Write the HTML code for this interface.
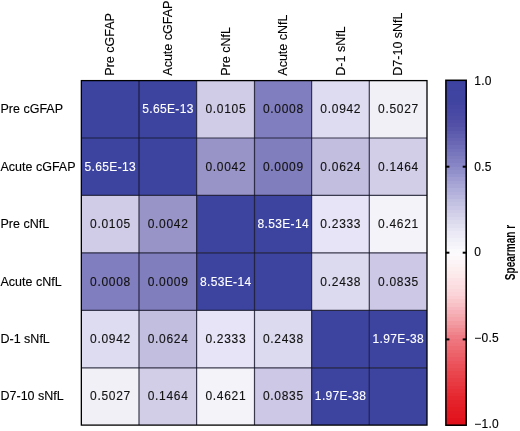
<!DOCTYPE html>
<html><head><meta charset="utf-8"><style>
html,body{margin:0;padding:0;background:#fff;}
svg{display:block;font-family:"Liberation Sans",sans-serif;will-change:transform;filter:blur(0.3px);}
</style></head><body>
<svg width="520" height="431" viewBox="0 0 520 431">
<rect width="520" height="431" fill="#fff"/>
<rect x="81.35" y="80.6" width="57.65" height="57.40" fill="#3d44a0"/>
<rect x="139.0" y="80.6" width="57.60" height="57.40" fill="#3d44a0"/>
<rect x="196.6" y="80.6" width="57.90" height="57.40" fill="#d0cce8"/>
<rect x="254.5" y="80.6" width="57.10" height="57.40" fill="#807ebe"/>
<rect x="311.6" y="80.6" width="57.70" height="57.40" fill="#dedcf0"/>
<rect x="369.3" y="80.6" width="57.70" height="57.40" fill="#f1f0f7"/>
<rect x="81.35" y="138.0" width="57.65" height="57.40" fill="#3d44a0"/>
<rect x="139.0" y="138.0" width="57.60" height="57.40" fill="#3d44a0"/>
<rect x="196.6" y="138.0" width="57.90" height="57.40" fill="#9894c8"/>
<rect x="254.5" y="138.0" width="57.10" height="57.40" fill="#807ebc"/>
<rect x="311.6" y="138.0" width="57.70" height="57.40" fill="#c2bee0"/>
<rect x="369.3" y="138.0" width="57.70" height="57.40" fill="#d2cee8"/>
<rect x="81.35" y="195.4" width="57.65" height="57.40" fill="#d0cce8"/>
<rect x="139.0" y="195.4" width="57.60" height="57.40" fill="#9894c8"/>
<rect x="196.6" y="195.4" width="57.90" height="57.40" fill="#3d44a0"/>
<rect x="254.5" y="195.4" width="57.10" height="57.40" fill="#3d44a0"/>
<rect x="311.6" y="195.4" width="57.70" height="57.40" fill="#e6e4f6"/>
<rect x="369.3" y="195.4" width="57.70" height="57.40" fill="#f4f3fa"/>
<rect x="81.35" y="252.8" width="57.65" height="57.60" fill="#807ebe"/>
<rect x="139.0" y="252.8" width="57.60" height="57.60" fill="#807ebc"/>
<rect x="196.6" y="252.8" width="57.90" height="57.60" fill="#3d44a0"/>
<rect x="254.5" y="252.8" width="57.10" height="57.60" fill="#3d44a0"/>
<rect x="311.6" y="252.8" width="57.70" height="57.60" fill="#dcdaee"/>
<rect x="369.3" y="252.8" width="57.70" height="57.60" fill="#ccc8e6"/>
<rect x="81.35" y="310.4" width="57.65" height="57.40" fill="#dedcf0"/>
<rect x="139.0" y="310.4" width="57.60" height="57.40" fill="#c2bee0"/>
<rect x="196.6" y="310.4" width="57.90" height="57.40" fill="#e6e4f6"/>
<rect x="254.5" y="310.4" width="57.10" height="57.40" fill="#dcdaee"/>
<rect x="311.6" y="310.4" width="57.70" height="57.40" fill="#3d44a0"/>
<rect x="369.3" y="310.4" width="57.70" height="57.40" fill="#3d44a0"/>
<rect x="81.35" y="367.8" width="57.65" height="57.30" fill="#f1f0f7"/>
<rect x="139.0" y="367.8" width="57.60" height="57.30" fill="#d2cee8"/>
<rect x="196.6" y="367.8" width="57.90" height="57.30" fill="#f4f3fa"/>
<rect x="254.5" y="367.8" width="57.10" height="57.30" fill="#ccc8e6"/>
<rect x="311.6" y="367.8" width="57.70" height="57.30" fill="#3d44a0"/>
<rect x="369.3" y="367.8" width="57.70" height="57.30" fill="#3d44a0"/>
<line x1="139.0" y1="80.6" x2="139.0" y2="425.1" stroke="#14142a" stroke-width="1.2" stroke-opacity="0.82"/>
<line x1="196.6" y1="80.6" x2="196.6" y2="425.1" stroke="#14142a" stroke-width="1.2" stroke-opacity="0.82"/>
<line x1="254.5" y1="80.6" x2="254.5" y2="425.1" stroke="#14142a" stroke-width="1.2" stroke-opacity="0.82"/>
<line x1="311.6" y1="80.6" x2="311.6" y2="425.1" stroke="#14142a" stroke-width="1.2" stroke-opacity="0.82"/>
<line x1="369.3" y1="80.6" x2="369.3" y2="425.1" stroke="#14142a" stroke-width="1.2" stroke-opacity="0.82"/>
<line x1="81.35" y1="138.0" x2="427.0" y2="138.0" stroke="#14142a" stroke-width="1.2" stroke-opacity="0.82"/>
<line x1="81.35" y1="195.4" x2="427.0" y2="195.4" stroke="#14142a" stroke-width="1.2" stroke-opacity="0.82"/>
<line x1="81.35" y1="252.8" x2="427.0" y2="252.8" stroke="#14142a" stroke-width="1.2" stroke-opacity="0.82"/>
<line x1="81.35" y1="310.4" x2="427.0" y2="310.4" stroke="#14142a" stroke-width="1.2" stroke-opacity="0.82"/>
<line x1="81.35" y1="367.8" x2="427.0" y2="367.8" stroke="#14142a" stroke-width="1.2" stroke-opacity="0.82"/>
<rect x="81.35" y="80.6" width="345.65" height="344.50" fill="none" stroke="#000" stroke-width="1.3"/>
<text x="167.98" y="113.30" fill="#fff" stroke="#fff" stroke-width="0.12" text-anchor="middle" font-size="12" letter-spacing="0.35">5.65E-13</text>
<text x="225.90" y="113.30" fill="#111" stroke="#111" stroke-width="0.12" text-anchor="middle" font-size="12" letter-spacing="0.7">0.0105</text>
<text x="283.40" y="113.30" fill="#111" stroke="#111" stroke-width="0.12" text-anchor="middle" font-size="12" letter-spacing="0.7">0.0008</text>
<text x="340.80" y="113.30" fill="#111" stroke="#111" stroke-width="0.12" text-anchor="middle" font-size="12" letter-spacing="0.7">0.0942</text>
<text x="398.50" y="113.30" fill="#111" stroke="#111" stroke-width="0.12" text-anchor="middle" font-size="12" letter-spacing="0.7">0.5027</text>
<text x="110.35" y="170.70" fill="#fff" stroke="#fff" stroke-width="0.12" text-anchor="middle" font-size="12" letter-spacing="0.35">5.65E-13</text>
<text x="225.90" y="170.70" fill="#111" stroke="#111" stroke-width="0.12" text-anchor="middle" font-size="12" letter-spacing="0.7">0.0042</text>
<text x="283.40" y="170.70" fill="#111" stroke="#111" stroke-width="0.12" text-anchor="middle" font-size="12" letter-spacing="0.7">0.0009</text>
<text x="340.80" y="170.70" fill="#111" stroke="#111" stroke-width="0.12" text-anchor="middle" font-size="12" letter-spacing="0.7">0.0624</text>
<text x="398.50" y="170.70" fill="#111" stroke="#111" stroke-width="0.12" text-anchor="middle" font-size="12" letter-spacing="0.7">0.1464</text>
<text x="110.52" y="228.10" fill="#111" stroke="#111" stroke-width="0.12" text-anchor="middle" font-size="12" letter-spacing="0.7">0.0105</text>
<text x="168.15" y="228.10" fill="#111" stroke="#111" stroke-width="0.12" text-anchor="middle" font-size="12" letter-spacing="0.7">0.0042</text>
<text x="283.23" y="228.10" fill="#fff" stroke="#fff" stroke-width="0.12" text-anchor="middle" font-size="12" letter-spacing="0.35">8.53E-14</text>
<text x="340.80" y="228.10" fill="#111" stroke="#111" stroke-width="0.12" text-anchor="middle" font-size="12" letter-spacing="0.7">0.2333</text>
<text x="398.50" y="228.10" fill="#111" stroke="#111" stroke-width="0.12" text-anchor="middle" font-size="12" letter-spacing="0.7">0.4621</text>
<text x="110.52" y="285.60" fill="#111" stroke="#111" stroke-width="0.12" text-anchor="middle" font-size="12" letter-spacing="0.7">0.0008</text>
<text x="168.15" y="285.60" fill="#111" stroke="#111" stroke-width="0.12" text-anchor="middle" font-size="12" letter-spacing="0.7">0.0009</text>
<text x="225.73" y="285.60" fill="#fff" stroke="#fff" stroke-width="0.12" text-anchor="middle" font-size="12" letter-spacing="0.35">8.53E-14</text>
<text x="340.80" y="285.60" fill="#111" stroke="#111" stroke-width="0.12" text-anchor="middle" font-size="12" letter-spacing="0.7">0.2438</text>
<text x="398.50" y="285.60" fill="#111" stroke="#111" stroke-width="0.12" text-anchor="middle" font-size="12" letter-spacing="0.7">0.0835</text>
<text x="110.52" y="343.10" fill="#111" stroke="#111" stroke-width="0.12" text-anchor="middle" font-size="12" letter-spacing="0.7">0.0942</text>
<text x="168.15" y="343.10" fill="#111" stroke="#111" stroke-width="0.12" text-anchor="middle" font-size="12" letter-spacing="0.7">0.0624</text>
<text x="225.90" y="343.10" fill="#111" stroke="#111" stroke-width="0.12" text-anchor="middle" font-size="12" letter-spacing="0.7">0.2333</text>
<text x="283.40" y="343.10" fill="#111" stroke="#111" stroke-width="0.12" text-anchor="middle" font-size="12" letter-spacing="0.7">0.2438</text>
<text x="398.32" y="343.10" fill="#fff" stroke="#fff" stroke-width="0.12" text-anchor="middle" font-size="12" letter-spacing="0.35">1.97E-38</text>
<text x="110.52" y="400.45" fill="#111" stroke="#111" stroke-width="0.12" text-anchor="middle" font-size="12" letter-spacing="0.7">0.5027</text>
<text x="168.15" y="400.45" fill="#111" stroke="#111" stroke-width="0.12" text-anchor="middle" font-size="12" letter-spacing="0.7">0.1464</text>
<text x="225.90" y="400.45" fill="#111" stroke="#111" stroke-width="0.12" text-anchor="middle" font-size="12" letter-spacing="0.7">0.4621</text>
<text x="283.40" y="400.45" fill="#111" stroke="#111" stroke-width="0.12" text-anchor="middle" font-size="12" letter-spacing="0.7">0.0835</text>
<text x="340.63" y="400.45" fill="#fff" stroke="#fff" stroke-width="0.12" text-anchor="middle" font-size="12" letter-spacing="0.35">1.97E-38</text>
<text x="0.5" y="113.30" font-size="12.5" stroke="#000" stroke-width="0.12">Pre cGFAP</text>
<text x="0.5" y="170.70" font-size="12.5" stroke="#000" stroke-width="0.12">Acute cGFAP</text>
<text x="0.5" y="228.10" font-size="12.5" stroke="#000" stroke-width="0.12">Pre cNfL</text>
<text x="0.5" y="285.60" font-size="12.5" stroke="#000" stroke-width="0.12">Acute cNfL</text>
<text x="0.5" y="343.10" font-size="12.5" stroke="#000" stroke-width="0.12">D-1 sNfL</text>
<text x="0.5" y="400.45" font-size="12.5" stroke="#000" stroke-width="0.12">D7-10 sNfL</text>
<text transform="translate(114.38,75.7) rotate(-90)" font-size="12.5" stroke="#000" stroke-width="0.12">Pre cGFAP</text>
<text transform="translate(172.00,75.7) rotate(-90)" font-size="12.5" stroke="#000" stroke-width="0.12">Acute cGFAP</text>
<text transform="translate(229.75,75.7) rotate(-90)" font-size="12.5" stroke="#000" stroke-width="0.12">Pre cNfL</text>
<text transform="translate(287.25,75.7) rotate(-90)" font-size="12.5" stroke="#000" stroke-width="0.12">Acute cNfL</text>
<text transform="translate(344.65,75.7) rotate(-90)" font-size="12.5" stroke="#000" stroke-width="0.12">D-1 sNfL</text>
<text transform="translate(402.35,75.7) rotate(-90)" font-size="12.5" stroke="#000" stroke-width="0.12">D7-10 sNfL</text>
<rect x="445.9" y="80.30" width="20.30" height="4.19" fill="rgb(61, 66, 160)" shape-rendering="crispEdges"/>
<rect x="445.9" y="83.89" width="20.30" height="4.19" fill="rgb(62, 66, 160)" shape-rendering="crispEdges"/>
<rect x="445.9" y="87.49" width="20.30" height="4.19" fill="rgb(62, 67, 160)" shape-rendering="crispEdges"/>
<rect x="445.9" y="91.08" width="20.30" height="4.19" fill="rgb(63, 67, 161)" shape-rendering="crispEdges"/>
<rect x="445.9" y="94.67" width="20.30" height="4.19" fill="rgb(63, 68, 161)" shape-rendering="crispEdges"/>
<rect x="445.9" y="98.26" width="20.30" height="4.19" fill="rgb(64, 68, 161)" shape-rendering="crispEdges"/>
<rect x="445.9" y="101.86" width="20.30" height="4.19" fill="rgb(65, 69, 161)" shape-rendering="crispEdges"/>
<rect x="445.9" y="105.45" width="20.30" height="4.19" fill="rgb(68, 70, 162)" shape-rendering="crispEdges"/>
<rect x="445.9" y="109.04" width="20.30" height="4.19" fill="rgb(71, 72, 163)" shape-rendering="crispEdges"/>
<rect x="445.9" y="112.63" width="20.30" height="4.19" fill="rgb(73, 74, 164)" shape-rendering="crispEdges"/>
<rect x="445.9" y="116.23" width="20.30" height="4.19" fill="rgb(76, 76, 165)" shape-rendering="crispEdges"/>
<rect x="445.9" y="119.82" width="20.30" height="4.19" fill="rgb(79, 77, 166)" shape-rendering="crispEdges"/>
<rect x="445.9" y="123.41" width="20.30" height="4.19" fill="rgb(82, 80, 167)" shape-rendering="crispEdges"/>
<rect x="445.9" y="127.01" width="20.30" height="4.19" fill="rgb(87, 85, 170)" shape-rendering="crispEdges"/>
<rect x="445.9" y="130.60" width="20.30" height="4.19" fill="rgb(92, 90, 173)" shape-rendering="crispEdges"/>
<rect x="445.9" y="134.19" width="20.30" height="4.19" fill="rgb(96, 94, 175)" shape-rendering="crispEdges"/>
<rect x="445.9" y="137.78" width="20.30" height="4.19" fill="rgb(101, 99, 178)" shape-rendering="crispEdges"/>
<rect x="445.9" y="141.38" width="20.30" height="4.19" fill="rgb(106, 104, 181)" shape-rendering="crispEdges"/>
<rect x="445.9" y="144.97" width="20.30" height="4.19" fill="rgb(111, 109, 183)" shape-rendering="crispEdges"/>
<rect x="445.9" y="148.56" width="20.30" height="4.19" fill="rgb(116, 114, 186)" shape-rendering="crispEdges"/>
<rect x="445.9" y="152.15" width="20.30" height="4.19" fill="rgb(120, 118, 189)" shape-rendering="crispEdges"/>
<rect x="445.9" y="155.75" width="20.30" height="4.19" fill="rgb(126, 124, 191)" shape-rendering="crispEdges"/>
<rect x="445.9" y="159.34" width="20.30" height="4.19" fill="rgb(130, 128, 194)" shape-rendering="crispEdges"/>
<rect x="445.9" y="162.93" width="20.30" height="4.19" fill="rgb(135, 133, 197)" shape-rendering="crispEdges"/>
<rect x="445.9" y="166.52" width="20.30" height="4.19" fill="rgb(141, 139, 200)" shape-rendering="crispEdges"/>
<rect x="445.9" y="170.12" width="20.30" height="4.19" fill="rgb(146, 144, 202)" shape-rendering="crispEdges"/>
<rect x="445.9" y="173.71" width="20.30" height="4.19" fill="rgb(152, 150, 206)" shape-rendering="crispEdges"/>
<rect x="445.9" y="177.30" width="20.30" height="4.19" fill="rgb(158, 156, 208)" shape-rendering="crispEdges"/>
<rect x="445.9" y="180.90" width="20.30" height="4.19" fill="rgb(164, 162, 212)" shape-rendering="crispEdges"/>
<rect x="445.9" y="184.49" width="20.30" height="4.19" fill="rgb(169, 167, 214)" shape-rendering="crispEdges"/>
<rect x="445.9" y="188.08" width="20.30" height="4.19" fill="rgb(175, 173, 217)" shape-rendering="crispEdges"/>
<rect x="445.9" y="191.67" width="20.30" height="4.19" fill="rgb(180, 178, 220)" shape-rendering="crispEdges"/>
<rect x="445.9" y="195.27" width="20.30" height="4.19" fill="rgb(185, 183, 222)" shape-rendering="crispEdges"/>
<rect x="445.9" y="198.86" width="20.30" height="4.19" fill="rgb(191, 189, 224)" shape-rendering="crispEdges"/>
<rect x="445.9" y="202.45" width="20.30" height="4.19" fill="rgb(196, 194, 226)" shape-rendering="crispEdges"/>
<rect x="445.9" y="206.04" width="20.30" height="4.19" fill="rgb(201, 199, 229)" shape-rendering="crispEdges"/>
<rect x="445.9" y="209.64" width="20.30" height="4.19" fill="rgb(206, 204, 231)" shape-rendering="crispEdges"/>
<rect x="445.9" y="213.23" width="20.30" height="4.19" fill="rgb(211, 209, 234)" shape-rendering="crispEdges"/>
<rect x="445.9" y="216.82" width="20.30" height="4.19" fill="rgb(216, 214, 236)" shape-rendering="crispEdges"/>
<rect x="445.9" y="220.42" width="20.30" height="4.19" fill="rgb(220, 219, 238)" shape-rendering="crispEdges"/>
<rect x="445.9" y="224.01" width="20.30" height="4.19" fill="rgb(225, 224, 240)" shape-rendering="crispEdges"/>
<rect x="445.9" y="227.60" width="20.30" height="4.19" fill="rgb(230, 229, 243)" shape-rendering="crispEdges"/>
<rect x="445.9" y="231.19" width="20.30" height="4.19" fill="rgb(234, 233, 245)" shape-rendering="crispEdges"/>
<rect x="445.9" y="234.79" width="20.30" height="4.19" fill="rgb(237, 236, 246)" shape-rendering="crispEdges"/>
<rect x="445.9" y="238.38" width="20.30" height="4.19" fill="rgb(240, 240, 248)" shape-rendering="crispEdges"/>
<rect x="445.9" y="241.97" width="20.30" height="4.19" fill="rgb(244, 243, 249)" shape-rendering="crispEdges"/>
<rect x="445.9" y="245.56" width="20.30" height="4.19" fill="rgb(247, 247, 251)" shape-rendering="crispEdges"/>
<rect x="445.9" y="249.16" width="20.30" height="4.19" fill="rgb(250, 250, 252)" shape-rendering="crispEdges"/>
<rect x="445.9" y="252.75" width="20.30" height="4.19" fill="rgb(252, 250, 252)" shape-rendering="crispEdges"/>
<rect x="445.9" y="256.34" width="20.30" height="4.19" fill="rgb(252, 248, 249)" shape-rendering="crispEdges"/>
<rect x="445.9" y="259.94" width="20.30" height="4.19" fill="rgb(252, 244, 246)" shape-rendering="crispEdges"/>
<rect x="445.9" y="263.53" width="20.30" height="4.19" fill="rgb(253, 242, 243)" shape-rendering="crispEdges"/>
<rect x="445.9" y="267.12" width="20.30" height="4.19" fill="rgb(253, 238, 240)" shape-rendering="crispEdges"/>
<rect x="445.9" y="270.71" width="20.30" height="4.19" fill="rgb(253, 236, 237)" shape-rendering="crispEdges"/>
<rect x="445.9" y="274.31" width="20.30" height="4.19" fill="rgb(253, 232, 234)" shape-rendering="crispEdges"/>
<rect x="445.9" y="277.90" width="20.30" height="4.19" fill="rgb(252, 228, 230)" shape-rendering="crispEdges"/>
<rect x="445.9" y="281.49" width="20.30" height="4.19" fill="rgb(252, 224, 227)" shape-rendering="crispEdges"/>
<rect x="445.9" y="285.08" width="20.30" height="4.19" fill="rgb(251, 220, 223)" shape-rendering="crispEdges"/>
<rect x="445.9" y="288.68" width="20.30" height="4.19" fill="rgb(251, 216, 220)" shape-rendering="crispEdges"/>
<rect x="445.9" y="292.27" width="20.30" height="4.19" fill="rgb(250, 212, 216)" shape-rendering="crispEdges"/>
<rect x="445.9" y="295.86" width="20.30" height="4.19" fill="rgb(250, 206, 211)" shape-rendering="crispEdges"/>
<rect x="445.9" y="299.46" width="20.30" height="4.19" fill="rgb(249, 200, 204)" shape-rendering="crispEdges"/>
<rect x="445.9" y="303.05" width="20.30" height="4.19" fill="rgb(248, 193, 197)" shape-rendering="crispEdges"/>
<rect x="445.9" y="306.64" width="20.30" height="4.19" fill="rgb(247, 185, 191)" shape-rendering="crispEdges"/>
<rect x="445.9" y="310.23" width="20.30" height="4.19" fill="rgb(246, 178, 184)" shape-rendering="crispEdges"/>
<rect x="445.9" y="313.83" width="20.30" height="4.19" fill="rgb(245, 172, 177)" shape-rendering="crispEdges"/>
<rect x="445.9" y="317.42" width="20.30" height="4.19" fill="rgb(244, 164, 170)" shape-rendering="crispEdges"/>
<rect x="445.9" y="321.01" width="20.30" height="4.19" fill="rgb(243, 156, 162)" shape-rendering="crispEdges"/>
<rect x="445.9" y="324.60" width="20.30" height="4.19" fill="rgb(242, 148, 155)" shape-rendering="crispEdges"/>
<rect x="445.9" y="328.20" width="20.30" height="4.19" fill="rgb(241, 140, 147)" shape-rendering="crispEdges"/>
<rect x="445.9" y="331.79" width="20.30" height="4.19" fill="rgb(240, 132, 140)" shape-rendering="crispEdges"/>
<rect x="445.9" y="335.38" width="20.30" height="4.19" fill="rgb(239, 124, 132)" shape-rendering="crispEdges"/>
<rect x="445.9" y="338.97" width="20.30" height="4.19" fill="rgb(238, 117, 125)" shape-rendering="crispEdges"/>
<rect x="445.9" y="342.57" width="20.30" height="4.19" fill="rgb(238, 112, 120)" shape-rendering="crispEdges"/>
<rect x="445.9" y="346.16" width="20.30" height="4.19" fill="rgb(237, 107, 115)" shape-rendering="crispEdges"/>
<rect x="445.9" y="349.75" width="20.30" height="4.19" fill="rgb(237, 101, 109)" shape-rendering="crispEdges"/>
<rect x="445.9" y="353.35" width="20.30" height="4.19" fill="rgb(236, 96, 104)" shape-rendering="crispEdges"/>
<rect x="445.9" y="356.94" width="20.30" height="4.19" fill="rgb(236, 91, 99)" shape-rendering="crispEdges"/>
<rect x="445.9" y="360.53" width="20.30" height="4.19" fill="rgb(236, 85, 93)" shape-rendering="crispEdges"/>
<rect x="445.9" y="364.12" width="20.30" height="4.19" fill="rgb(235, 80, 88)" shape-rendering="crispEdges"/>
<rect x="445.9" y="367.72" width="20.30" height="4.19" fill="rgb(234, 76, 84)" shape-rendering="crispEdges"/>
<rect x="445.9" y="371.31" width="20.30" height="4.19" fill="rgb(234, 70, 78)" shape-rendering="crispEdges"/>
<rect x="445.9" y="374.90" width="20.30" height="4.19" fill="rgb(233, 66, 74)" shape-rendering="crispEdges"/>
<rect x="445.9" y="378.49" width="20.30" height="4.19" fill="rgb(232, 61, 69)" shape-rendering="crispEdges"/>
<rect x="445.9" y="382.09" width="20.30" height="4.19" fill="rgb(232, 56, 64)" shape-rendering="crispEdges"/>
<rect x="445.9" y="385.68" width="20.30" height="4.19" fill="rgb(231, 52, 60)" shape-rendering="crispEdges"/>
<rect x="445.9" y="389.27" width="20.30" height="4.19" fill="rgb(230, 47, 55)" shape-rendering="crispEdges"/>
<rect x="445.9" y="392.87" width="20.30" height="4.19" fill="rgb(230, 43, 51)" shape-rendering="crispEdges"/>
<rect x="445.9" y="396.46" width="20.30" height="4.19" fill="rgb(229, 38, 46)" shape-rendering="crispEdges"/>
<rect x="445.9" y="400.05" width="20.30" height="4.19" fill="rgb(228, 34, 42)" shape-rendering="crispEdges"/>
<rect x="445.9" y="403.64" width="20.30" height="4.19" fill="rgb(228, 31, 39)" shape-rendering="crispEdges"/>
<rect x="445.9" y="407.24" width="20.30" height="4.19" fill="rgb(227, 28, 36)" shape-rendering="crispEdges"/>
<rect x="445.9" y="410.83" width="20.30" height="4.19" fill="rgb(226, 25, 34)" shape-rendering="crispEdges"/>
<rect x="445.9" y="414.42" width="20.30" height="4.19" fill="rgb(226, 23, 32)" shape-rendering="crispEdges"/>
<rect x="445.9" y="418.01" width="20.30" height="4.19" fill="rgb(225, 20, 30)" shape-rendering="crispEdges"/>
<rect x="445.9" y="421.61" width="20.30" height="4.19" fill="rgb(224, 17, 27)" shape-rendering="crispEdges"/>
<rect x="445.9" y="80.3" width="20.30" height="344.90" fill="none" stroke="#000" stroke-width="1.55"/>
<text x="474.2" y="84.80" font-size="12" letter-spacing="0.3" stroke="#000" stroke-width="0.12">1.0</text>
<line x1="445.9" y1="166.7" x2="449.4" y2="166.7" stroke="#000" stroke-width="2"/>
<line x1="462.7" y1="166.7" x2="466.2" y2="166.7" stroke="#000" stroke-width="2"/>
<text x="474.2" y="170.70" font-size="12" letter-spacing="0.3" stroke="#000" stroke-width="0.12">0.5</text>
<line x1="445.9" y1="252.7" x2="449.4" y2="252.7" stroke="#000" stroke-width="2"/>
<line x1="462.7" y1="252.7" x2="466.2" y2="252.7" stroke="#000" stroke-width="2"/>
<text x="474.2" y="256.00" font-size="12" letter-spacing="0.3" stroke="#000" stroke-width="0.12">0</text>
<line x1="445.9" y1="339.4" x2="449.4" y2="339.4" stroke="#000" stroke-width="2"/>
<line x1="462.7" y1="339.4" x2="466.2" y2="339.4" stroke="#000" stroke-width="2"/>
<text x="474.2" y="341.90" font-size="12" letter-spacing="0.3" stroke="#000" stroke-width="0.12">−0.5</text>
<text x="474.2" y="427.70" font-size="12" letter-spacing="0.3" stroke="#000" stroke-width="0.12">−1.0</text>
<text transform="translate(515,280.2) rotate(-90) scale(0.68,1)" font-size="14.8" font-weight="bold">Spearman r</text>
</svg>
</body></html>
